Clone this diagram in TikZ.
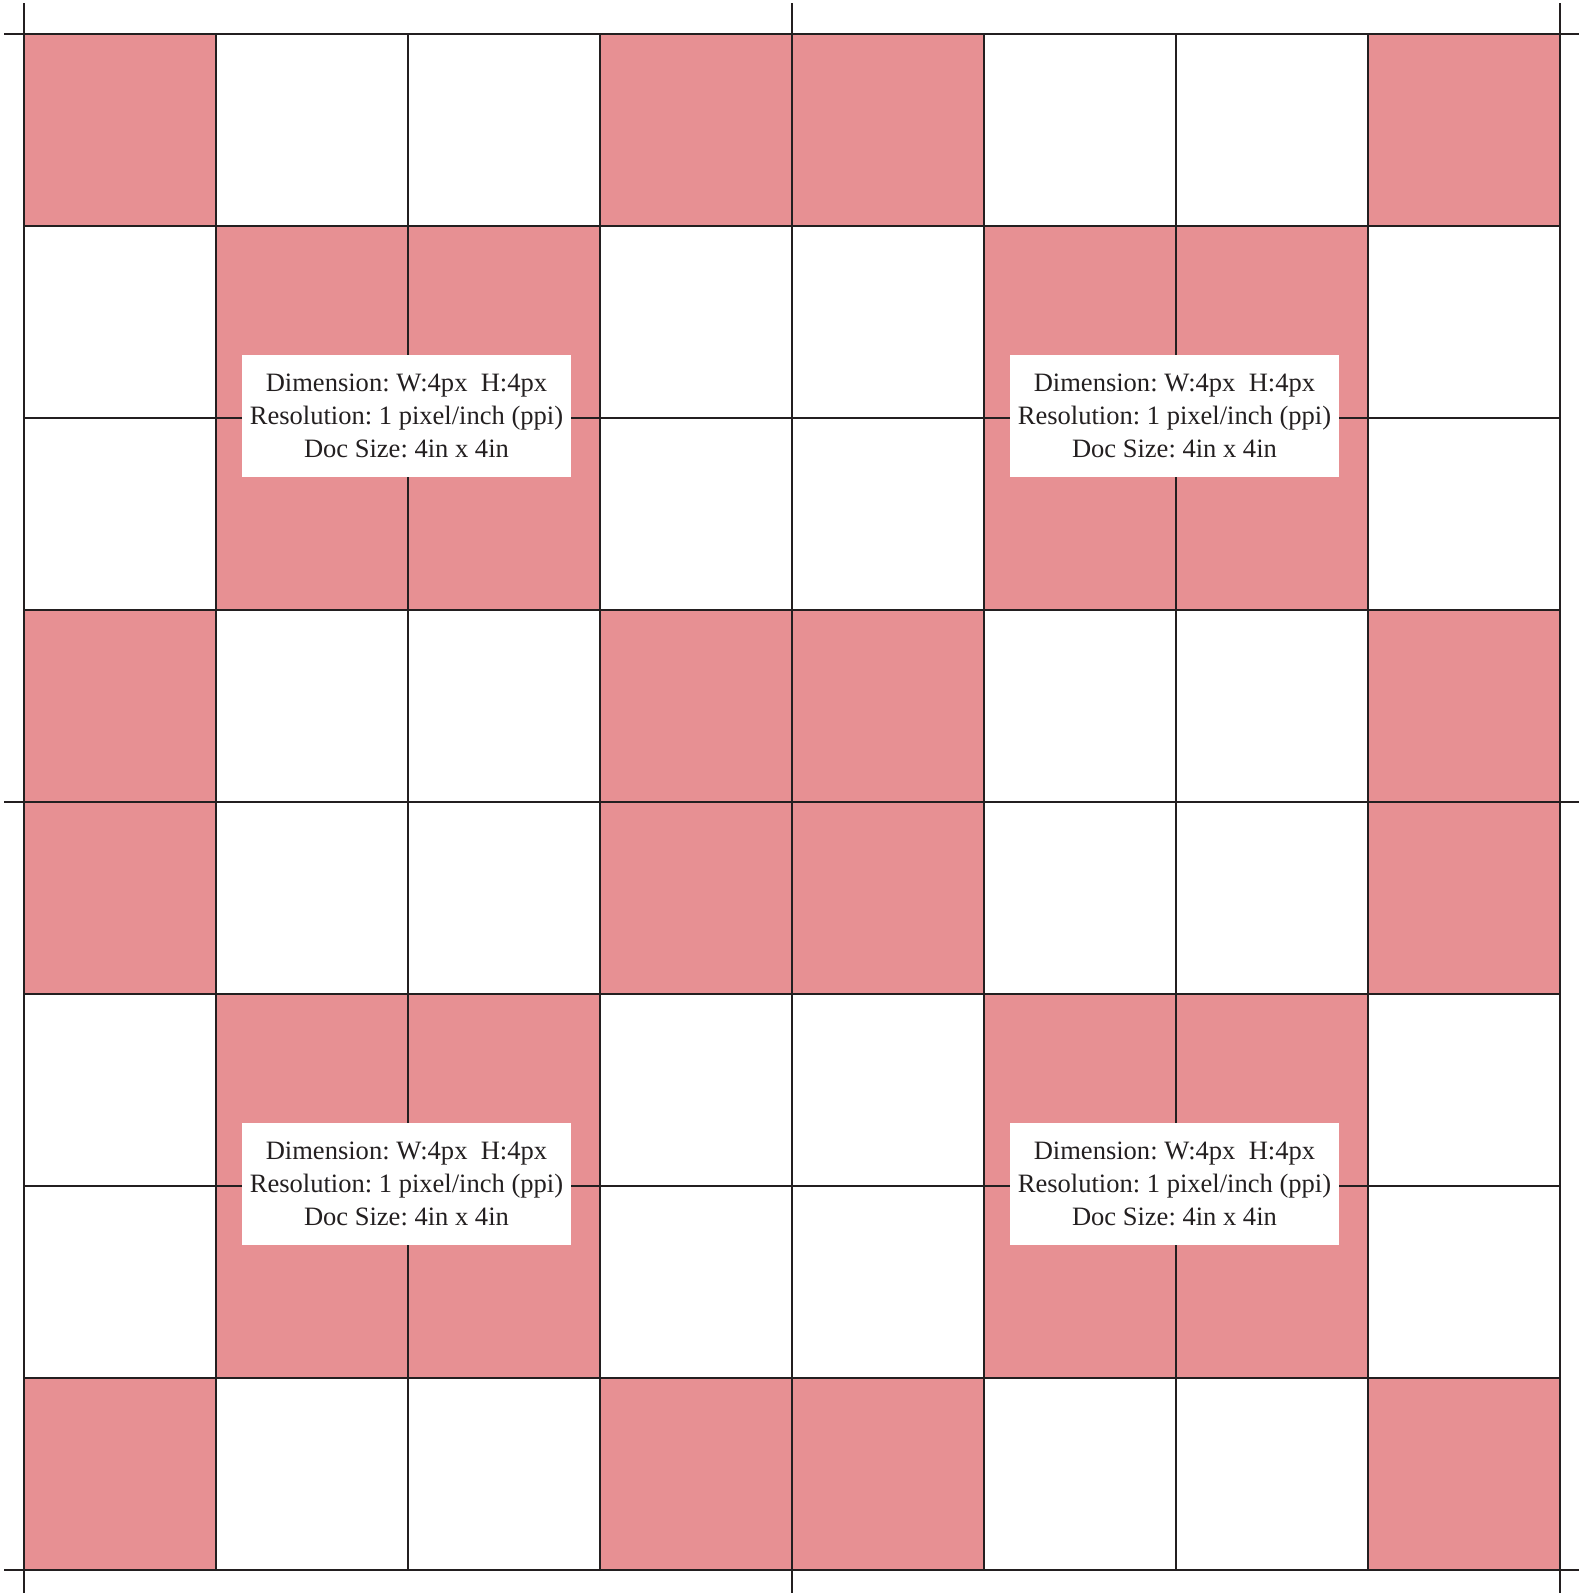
\documentclass[tikz,border=0pt]{standalone}
\usepackage{fontspec}
\setmainfont{Liberation Serif}
\frenchspacing
\definecolor{mypink}{RGB}{231,144,147}
\definecolor{mydark}{RGB}{35,31,32}
\tikzset{
  cell/.style={fill=mypink},
  gridline/.style={line width=0.75pt, color=mydark},
  infobox/.style={rectangle, fill=white, minimum width=3.29cm, minimum height=1.22cm, align=center, text=mydark, font=\fontsize{7.55}{9.3}\selectfont, inner sep=0pt}
}
\newcommand{\infotext}{Dimension: W:4px\ \ H:4px\\Resolution: 1 pixel/inch (ppi)\\Doc Size: 4in x 4in}

\begin{document}
\begin{tikzpicture}[x=1.92cm, y=1.92cm]
  \useasboundingbox (-0.125,-0.12) rectangle (8.099,8.177);
  % Pink cells
  \foreach \i in {0,...,7} {
    \foreach \j in {0,...,7} {
      \pgfmathtruncatemacro\ei{mod(\i+1,4)<2}
      \pgfmathtruncatemacro\ej{mod(\j+1,4)<2}
      \ifnum\ei=\ej \fill[cell] (\i,\j) rectangle ++(1,1); \fi
    }
  }
  % Grid
  \foreach \k in {0,...,8} {
    \draw[gridline] (\k,0) -- (\k,8);
    \draw[gridline] (0,\k) -- (8,\k);
  }
  % Long lines at the block borders
  \foreach \k in {0,4,8} {
    \draw[gridline] (\k,-0.12) -- (\k,8.161);
    \draw[gridline] (-0.104,\k) -- (8.099,\k);
  }
  % Info boxes
  \node[infobox] (infoTL) at (1.992,6.01) {\infotext};
  \node[infobox] (infoTR) at (5.992,6.01) {\infotext};
  \node[infobox] (infoBL) at (1.992,2.01) {\infotext};
  \node[infobox] (infoBR) at (5.992,2.01) {\infotext};
\end{tikzpicture}
\end{document}
